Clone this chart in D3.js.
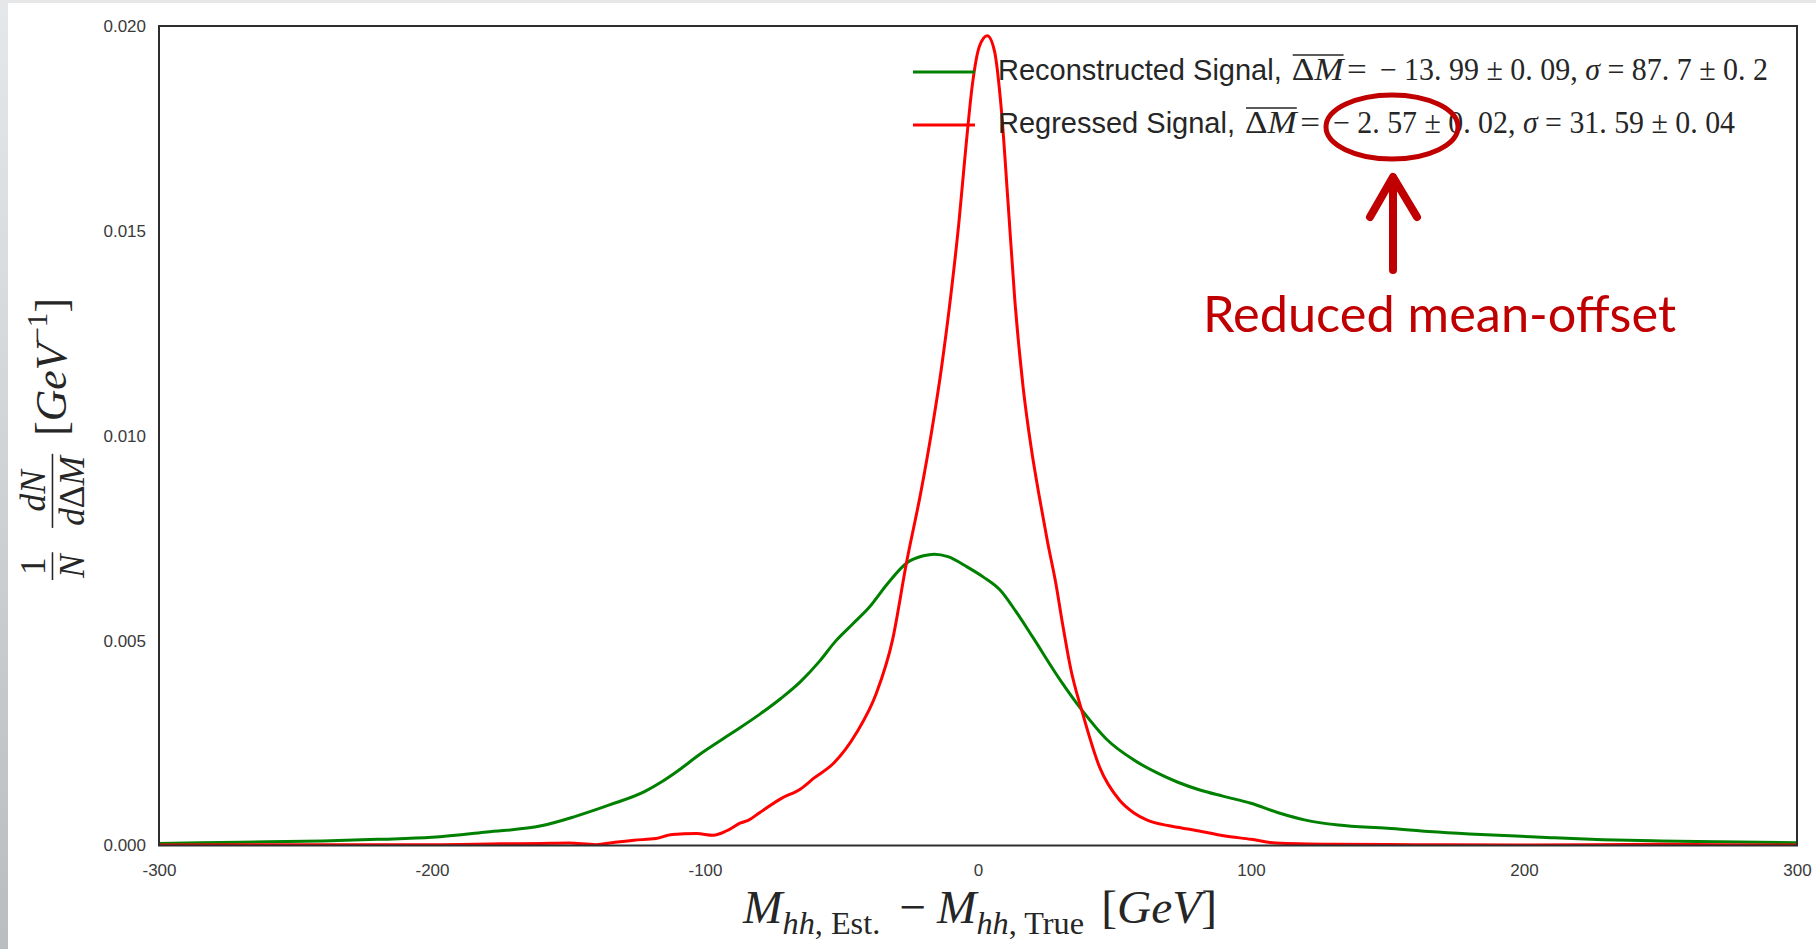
<!DOCTYPE html>
<html>
<head>
<meta charset="utf-8">
<script src="https://cdn.jsdelivr.net/npm/d3@7"></script>
<style>
body { margin: 0; background: #fff; }
svg { display: block; }
</style>
</head>
<body>
<svg width="1816" height="949"></svg>
<script>
// values
var xTicks = [-300, -200, -100, 0, 100, 200, 300];
var yTicks = [0, 0.005, 0.010, 0.015, 0.020];

var seriesNames = ["Reconstructed Signal", "Regressed Signal"];
var meanValues = ["-13.99", "-2.57"];
var meanErrors = ["0.09", "0.02"];
var sigmaValues = ["87.7", "31.59"];
var sigmaErrors = ["0.2", "0.04"];

// reconstructed (green)
var recoPoints = [
    [-300, 0.00005], [-270, 0.00008], [-240, 0.00011], [-220, 0.00015], [-200, 0.0002],
    [-180, 0.00033], [-160, 0.00048], [-148, 0.0007], [-135, 0.00099], [-122, 0.00132],
    [-116, 0.00155], [-110, 0.00182], [-102, 0.00222], [-90, 0.00275], [-80, 0.0032],
    [-72, 0.0036], [-65, 0.004], [-58, 0.0045], [-52, 0.005], [-46, 0.0054],
    [-40, 0.0058], [-33, 0.0064], [-26, 0.0069], [-20, 0.00707], [-16, 0.00711],
    [-11, 0.00705], [-4, 0.0068], [2, 0.00655], [8, 0.00624], [14, 0.0057],
    [20, 0.00509], [30, 0.00405], [38, 0.00331], [47, 0.0026], [57, 0.00209],
    [66, 0.00176], [73, 0.00155], [81, 0.00136], [90, 0.0012], [100, 0.00103],
    [110, 0.0008], [120, 0.00062], [132, 0.0005], [150, 0.00042], [165, 0.00034],
    [180, 0.00028], [197, 0.00023], [210, 0.00019], [229, 0.00014], [250, 0.00011],
    [271, 0.00009], [300, 0.00007]
];

// regressed (red)
var regPoints = [
    [-300, 0.00001], [-250, 0.00002], [-200, 0.00002], [-175, 0.00004], [-160, 0.00005],
    [-150, 0.00006], [-140, 0.00002], [-133, 0.00008], [-126, 0.00013], [-118, 0.00017],
    [-112, 0.00027], [-103, 0.00029], [-97, 0.00025], [-92, 0.00036], [-87, 0.00055],
    [-84, 0.00062], [-80, 0.0008], [-72, 0.00115], [-65, 0.00138], [-60, 0.00165],
    [-53, 0.002], [-44.5, 0.00275], [-37.2, 0.00372], [-31.3, 0.00502], [-26.2, 0.0069],
    [-21, 0.0086], [-17, 0.0101], [-13.5, 0.0116], [-10, 0.0134], [-7, 0.0152],
    [-4.5, 0.017], [-2, 0.0186], [0.5, 0.0195], [3.4, 0.01976], [6, 0.0194],
    [8.5, 0.018], [11, 0.0157], [13.5, 0.0133], [16.5, 0.0112], [19.5, 0.0097],
    [22.5, 0.0085], [25.5, 0.0074], [28.5, 0.0064], [31, 0.0054], [34, 0.0043],
    [38.3, 0.00323], [44.5, 0.00192], [51.8, 0.00111], [57, 0.0008], [62, 0.00062],
    [70, 0.00048], [79, 0.00038], [90, 0.00024], [100, 0.00015], [109, 0.00006],
    [130, 0.00003], [160, 0.00002], [200, 0.00001], [250, 0.00003], [270, 0.00002],
    [300, 0.00001]
];

var sans = "'Liberation Sans', Arial, sans-serif";
var serif = "'Liberation Serif', 'Times New Roman', serif";
var textColor = "#262626";
var noteColor = "#c00000";

var svg = d3.select("svg");

// grey slide border
var defs = svg.append("defs");
var grad = defs.append("linearGradient").attr("id", "edge")
    .attr("x1", 0).attr("y1", 0).attr("x2", 0).attr("y2", 1);
grad.append("stop").attr("offset", "0%").attr("stop-color", "#e6e7e8");
grad.append("stop").attr("offset", "100%").attr("stop-color", "#b9bdbf");
svg.append("rect").attr("x", 0).attr("y", 0).attr("width", 1816).attr("height", 3).attr("fill", "#e6e7e8");
svg.append("rect").attr("x", 0).attr("y", 0).attr("width", 8).attr("height", 949).attr("fill", "url(#edge)");

var x = d3.scaleLinear().domain([-300, 300]).range([159, 1797]);
var y = d3.scaleLinear().domain([0, 0.02]).range([845.5, 26]);

defs.append("clipPath").attr("id", "plot")
    .append("rect").attr("x", x(-300)).attr("y", y(0.02))
    .attr("width", x(300) - x(-300)).attr("height", y(0) - y(0.02));

// axes
var xAxis = d3.axisBottom(x).tickValues(xTicks).tickSize(0).tickPadding(18)
    .tickFormat(d => String(d));
var yAxis = d3.axisLeft(y).tickValues(yTicks).tickSize(0).tickPadding(13)
    .tickFormat(d3.format(".3f"));

var gx = svg.append("g").attr("transform", "translate(0," + y(0) + ")").call(xAxis);
var gy = svg.append("g").attr("transform", "translate(" + x(-300) + ",0)").call(yAxis);
[gx, gy].forEach(function(g) {
    g.select(".domain").remove();
    g.selectAll("text").attr("font-family", sans).attr("font-size", 17).attr("fill", "#3a3a3a");
});

// curves
var line = d3.line().x(d => x(d[0])).y(d => y(d[1])).curve(d3.curveMonotoneX);
var curves = svg.append("g").attr("clip-path", "url(#plot)");
curves.append("path").datum(recoPoints).attr("d", line)
    .attr("fill", "none").attr("stroke", "#008000").attr("stroke-width", 3);
curves.append("path").datum(regPoints).attr("d", line)
    .attr("fill", "none").attr("stroke", "#ff0000").attr("stroke-width", 3);

// frame
svg.append("rect").attr("x", x(-300)).attr("y", y(0.02))
    .attr("width", x(300) - x(-300)).attr("height", y(0) - y(0.02))
    .attr("fill", "none").attr("stroke", "#2e2e2e").attr("stroke-width", 2);

// legend
function mathNum(s) {
    return s.replace("-", "\u2212 ").replace(".", ". ");
}
var colors = ["#008000", "#ff0000"];
var legendEnds = [1768, 1735];
var legend = svg.append("g");
seriesNames.forEach(function(name, i) {
    var base = 80 + 53 * i;
    legend.append("line").attr("x1", 913).attr("x2", 975)
        .attr("y1", base - 8).attr("y2", base - 8)
        .attr("stroke", colors[i]).attr("stroke-width", 3);
    var t = legend.append("text").attr("x", 998).attr("y", base)
        .attr("font-family", sans).attr("font-size", 29).attr("fill", textColor)
        .text(name + ",");
    var x0 = 998 + t.node().getComputedTextLength() + 10;
    // "ΔM =" part
    var ma = legend.append("text").attr("x", x0).attr("y", base)
        .attr("font-family", serif).attr("font-size", 31).attr("fill", textColor)
        .attr("textLength", 75).attr("lengthAdjust", "spacingAndGlyphs");
    ma.append("tspan").text("\u0394");
    ma.append("tspan").attr("font-style", "italic").text("M");
    ma.append("tspan").attr("dx", 3).text("=");
    var ext = ma.node().getExtentOfChar(1);
    legend.append("line").attr("x1", x0 + 1).attr("x2", ext.x + ext.width)
        .attr("y1", base - 25).attr("y2", base - 25)
        .attr("stroke", textColor).attr("stroke-width", 1.5);
    // values part
    var mb = legend.append("text").attr("x", x0 + 88).attr("y", base)
        .attr("font-family", serif).attr("font-size", 31).attr("fill", textColor)
        .attr("textLength", legendEnds[i] - x0 - 88).attr("lengthAdjust", "spacingAndGlyphs");
    mb.append("tspan").text(mathNum(meanValues[i]) + " \u00b1 " + mathNum(meanErrors[i]) + ", ");
    mb.append("tspan").attr("font-style", "italic").text("\u03c3");
    mb.append("tspan").text(" = " + mathNum(sigmaValues[i]) + " \u00b1 " + mathNum(sigmaErrors[i]));
});

// x label
var xl = svg.append("g");
var xt = xl.append("text").attr("font-family", serif).attr("font-size", 44).attr("fill", textColor);
function sub(t, a, b) {
    t.append("tspan").attr("font-size", 30).attr("font-style", "italic").attr("dy", 10).text(a);
    t.append("tspan").attr("font-size", 30).text(b);
}
xt.append("tspan").attr("font-style", "italic").text("M");
sub(xt, "hh", ", Est.");
xt.append("tspan").attr("dy", -10).attr("dx", 18).text("\u2212");
xt.append("tspan").attr("dx", 10).attr("font-style", "italic").text("M");
sub(xt, "hh", ", True");
xt.append("tspan").attr("dy", -10).attr("dx", 16).text("[");
xt.append("tspan").attr("font-style", "italic").text("GeV");
xt.append("tspan").text("]");
var xb = xt.node().getBBox();
var xs = 475 / xb.width;
xl.attr("transform", "translate(" + (979.5 - xs * (xb.x + xb.width / 2)) + ",923) scale(" + xs + ")");

// y label
var yl = svg.append("g");
var yin = yl.append("g");
function frac(g, cx, num, den) {
    var n = g.append("text").attr("x", cx).attr("y", -20).attr("text-anchor", "middle")
        .attr("font-family", serif).attr("font-size", 34).attr("fill", textColor);
    num.forEach(p => n.append("tspan").attr("font-style", p[1] ? "italic" : "normal").text(p[0]));
    var d = g.append("text").attr("x", cx).attr("y", 17).attr("text-anchor", "middle")
        .attr("font-family", serif).attr("font-size", 34).attr("fill", textColor);
    den.forEach(p => d.append("tspan").attr("font-style", p[1] ? "italic" : "normal").text(p[0]));
    var w = Math.max(n.node().getComputedTextLength(), d.node().getComputedTextLength()) + 4;
    g.append("line").attr("x1", cx - w / 2).attr("x2", cx + w / 2)
        .attr("y1", -13).attr("y2", -13).attr("stroke", textColor).attr("stroke-width", 1.5);
    return w;
}
var w1 = frac(yin, 12, [["1", 0]], [["N", 1]]);
var w2 = frac(yin, 12 + w1 / 2 + 24 + 35, [["d", 1], ["N", 1]], [["d", 1], ["\u0394", 0], ["M", 1]]);
var bt = yin.append("text").attr("x", 12 + w1 / 2 + 24 + 70 + 18).attr("y", 0)
    .attr("font-family", serif).attr("font-size", 42).attr("fill", textColor);
bt.append("tspan").text("[");
bt.append("tspan").attr("font-style", "italic").text("GeV");
bt.append("tspan").attr("font-size", 28).attr("dy", -18).text("\u22121");
bt.append("tspan").attr("dy", 18).text("]");
var yb = yin.node().getBBox();
var ys = 282 / yb.width;
yl.attr("transform", "translate(66,439) rotate(-90) scale(" + ys + ") translate(" + (-(yb.x + yb.width / 2)) + ",0)");

// annotation
var note = svg.append("g");
note.append("ellipse").attr("cx", 1392).attr("cy", 127).attr("rx", 66).attr("ry", 32)
    .attr("fill", "none").attr("stroke", noteColor).attr("stroke-width", 5);
note.append("line").attr("x1", 1393).attr("x2", 1393).attr("y1", 270).attr("y2", 182)
    .attr("stroke", noteColor).attr("stroke-width", 8).attr("stroke-linecap", "round");
note.append("polyline").attr("points", "1370,217 1393,177 1417,217")
    .attr("fill", "none").attr("stroke", noteColor).attr("stroke-width", 8)
    .attr("stroke-linecap", "round").attr("stroke-linejoin", "round");
note.append("text").attr("x", 1203).attr("y", 332)
    .attr("font-family", "Lato, 'Open Sans', sans-serif").attr("font-size", 50)
    .attr("fill", noteColor).attr("textLength", 473).attr("lengthAdjust", "spacingAndGlyphs")
    .text("Reduced mean-offset");
</script>
</body>
</html>
